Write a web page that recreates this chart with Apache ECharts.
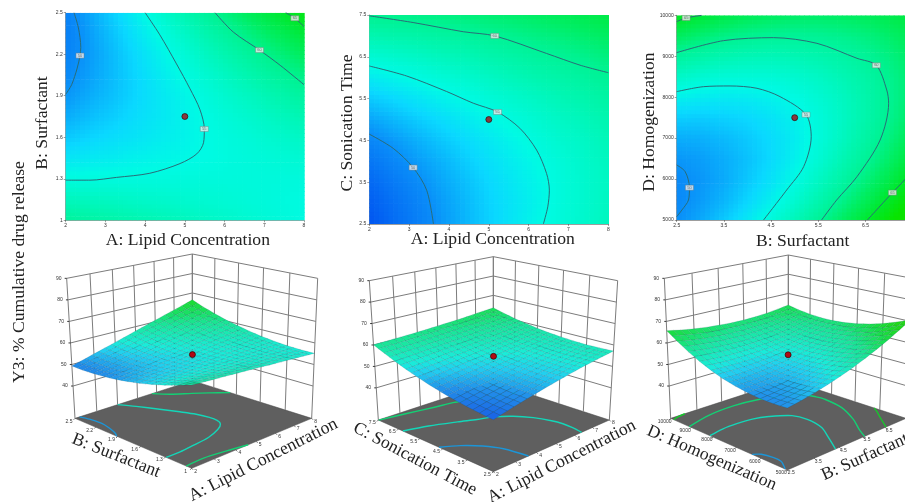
<!DOCTYPE html>
<html><head><meta charset="utf-8">
<style>html,body{margin:0;padding:0;background:#fff;overflow:hidden}#c{width:905px;height:502px;filter:blur(.4px)}</style>
<script src="https://cdn.jsdelivr.net/npm/echarts@6/dist/echarts.min.js"></script>
</head><body><div id="c"></div>
<script>
// ---------- values ----------
const lipidLevels=[2,2.6,3.2,3.8,4.4,5,5.6,6.2,6.8,7.4,8];
const surfactantLowLevels=[1,1.15,1.3,1.45,1.6,1.75,1.9,2.05,2.2,2.35,2.5];
const sonicationLevels=[2.5,3,3.5,4,4.5,5,5.5,6,6.5,7,7.5];
const surfactantHighLevels=[2.5,3,3.5,4,4.5,5,5.5,6,6.5,7,7.5];
const homogenizationLevels=[5000,5500,6000,6500,7000,7500,8000,8500,9000,9500,10000];

const releaseAB=[
[59.4,58.9,58.5,58.1,57.7,57.3,56.8,56.4,56.0,55.6,55.2],
[57.3,57.1,56.9,56.6,56.4,56.2,56.0,55.8,55.6,55.4,55.2],
[55.4,55.4,55.4,55.4,55.4,55.5,55.5,55.5,55.5,55.5,55.5],
[53.8,54.0,54.2,54.5,54.7,54.9,55.1,55.4,55.6,55.8,56.0],
[52.4,52.9,53.3,53.7,54.2,54.6,55.1,55.5,55.9,56.4,56.8],
[51.3,52.0,52.6,53.3,53.9,54.6,55.2,55.9,56.5,57.2,57.8],
[50.4,51.3,52.1,53.0,53.9,54.7,55.6,56.5,57.3,58.2,59.1],
[49.8,50.8,51.9,53.0,54.1,55.2,56.2,57.3,58.4,59.5,60.5],
[49.4,50.6,51.9,53.2,54.5,55.8,57.1,58.4,59.7,61.0,62.3],
[49.2,50.7,52.2,53.7,55.2,56.7,58.2,59.7,61.2,62.7,64.2],
[49.3,51.0,52.7,54.4,56.1,57.9,59.6,61.3,63.0,64.7,66.5]];
const releaseAC=[
[46.3,47.8,49.1,50.4,51.6,52.7,53.8,54.8,55.6,56.4,57.2],
[46.9,48.2,49.4,50.6,51.7,52.8,53.7,54.6,55.5,56.3,57.0],
[47.6,48.8,49.9,51.0,52.0,53.0,53.9,54.7,55.5,56.3,56.9],
[48.5,49.6,50.6,51.5,52.5,53.4,54.2,55.0,55.7,56.5,57.1],
[49.6,50.5,51.4,52.3,53.1,53.9,54.7,55.5,56.2,56.8,57.5],
[50.9,51.7,52.5,53.2,54.0,54.7,55.4,56.1,56.8,57.4,58.0],
[52.4,53.0,53.7,54.4,55.0,55.7,56.3,56.9,57.6,58.2,58.8],
[54.0,54.6,55.1,55.7,56.2,56.8,57.4,58.0,58.5,59.1,59.7],
[55.9,56.3,56.7,57.2,57.6,58.1,58.6,59.2,59.7,60.2,60.8],
[57.9,58.2,58.5,58.9,59.2,59.7,60.1,60.6,61.0,61.6,62.1],
[60.1,60.3,60.5,60.7,61.0,61.4,61.7,62.1,62.6,63.1,63.6]];
const releaseBD=[
[50.1,51.1,52.4,53.9,55.6,57.5,59.7,62.1,64.7,67.6,70.7],
[49.8,50.6,51.6,52.9,54.3,56.1,58.0,60.2,62.6,65.3,68.2],
[49.9,50.4,51.2,52.3,53.5,55.0,56.8,58.7,60.9,63.3,66.0],
[50.4,50.7,51.3,52.1,53.1,54.4,55.9,57.7,59.6,61.8,64.3],
[51.3,51.4,51.8,52.4,53.2,54.2,55.5,57.0,58.8,60.8,63.0],
[52.6,52.5,52.7,53.0,53.6,54.5,55.5,56.8,58.3,60.1,62.1],
[54.4,54.1,54.0,54.1,54.5,55.1,56.0,57.0,58.3,59.9,61.6],
[56.6,56.0,55.7,55.7,55.8,56.2,56.8,57.7,58.7,60.1,61.6],
[59.2,58.5,57.9,57.6,57.5,57.7,58.1,58.7,59.6,60.7,62.0],
[62.3,61.3,60.5,60.0,59.7,59.6,59.8,60.2,60.8,61.7,62.8],
[65.7,64.5,63.5,62.8,62.3,62.0,61.9,62.1,62.5,63.2,64.0]];

const contoursAB=[
 {level:50,line:[[2.21,2.5],[2.32,2.39],[2.38,2.25],[2.36,2.19],[2.29,2.10],[2.15,1.98],[2,1.91]],tag:[2.36,2.19]},
 {level:55,line:[[4.0,2.5],[4.37,2.34],[4.79,2.13],[5.13,1.95],[5.38,1.80],[5.49,1.66],[5.47,1.56],[5.3,1.48],[4.88,1.41],[4.12,1.34],[3.28,1.31],[2.61,1.29],[2,1.29]],tag:[5.49,1.66]},
 {level:60,line:[[5.76,2.5],[6.22,2.36],[6.88,2.23],[7.4,2.12],[8,1.98]],tag:[6.88,2.23]},
 {level:65,line:[[7.54,2.5],[7.77,2.46],[8,2.40]],tag:[7.77,2.46]}];
const floorOnlyAB=[{level:60,line:[[2,1.06],[2.8,1.07],[3.7,1.04],[4.6,1]]}];
const contoursAC=[
 {level:50,line:[[2,4.65],[2.6,4.31],[3.1,3.85],[3.44,3.31],[3.61,2.5]],tag:[3.1,3.85]},
 {level:55,line:[[2,6.28],[2.94,6.04],[3.94,5.67],[4.61,5.39],[5.22,5.18],[5.78,4.79],[6.2,4.27],[6.45,3.71],[6.52,3.31],[6.48,2.91],[6.37,2.5]],tag:[5.22,5.18]},
 {level:60,line:[[2,7.48],[3.1,7.32],[4.36,7.1],[5.15,7.0],[6.45,6.58],[7.29,6.3],[8,6.12]],tag:[5.15,7.0]}];
const contoursBD=[
 {level:50,line:[[2.5,6344],[2.68,6181],[2.77,5790],[2.75,5489],[2.61,5244],[2.5,5081]],tag:[2.77,5790]},
 {level:55,line:[[2.5,8135],[3.07,8257],[3.63,8274],[4.2,8217],[4.69,8013],[5.24,7573],[5.35,7036],[5.19,6303],[4.83,5733],[4.34,5000]],tag:[5.24,7573]},
 {level:60,line:[[2.5,9088],[3.49,9381],[4.55,9454],[5.47,9316],[6.32,8949],[6.73,8778],[6.95,8176],[6.99,7850],[6.81,6954],[6.32,6059],[5.89,5489],[5.57,5000]],tag:[6.73,8778]},
 {level:65,line:[[2.5,9845],[2.7,9935],[3.03,10000]],tag:[2.7,9935]},
 {level:65,line:[[6.54,5000],[7.07,5668],[7.34,5993],[7.5,6221]],tag:[7.07,5668]}];

const lipidTicks=[2,3,4,5,6,7,8];
const surfactantLowTicks=[1,1.3,1.6,1.9,2.2,2.5];
const sonicationTicks=[2.5,3.5,4.5,5.5,6.5,7.5];
const surfactantHighTicks=[2.5,3.5,4.5,5.5,6.5,7.5];
const homogenizationTicks=[5000,6000,7000,8000,9000,10000];
const responseTicks=[40,50,60,70,80,90];
const responseFloor=25, responseTop=90;
const centerPoints=[[5,1.75,54.6],[5,5,54.7],[5,7500,54.5]];

// ---------- colours and layout ----------
const colourStops=[[46,[0,80,240]],[50,[10,140,248]],[53,[10,216,255]],[55,[0,250,228]],[58,[0,246,176]],[60,[0,242,146]],[62,[0,238,100]],[65,[0,232,44]],[68,[8,228,0]],[72,[20,220,0]]];
function colourAt(z,fade){
  let s=colourStops,c=s[s.length-1][1];
  if(z<=s[0][0])c=s[0][1];
  else for(let i=1;i<s.length;i++){ if(z<=s[i][0]){const t=(z-s[i-1][0])/(s[i][0]-s[i-1][0]);c=s[i-1][1].map((v,k)=>v+(s[i][1][k]-v)*t);break;} }
  if(fade)c=c.map(v=>v+(fade[0]-v)*fade[1]);
  return `rgb(${c.map(Math.round).join(',')})`;
}
const serif='"Liberation Serif","Times New Roman",serif';
const panels=[
 {xs:lipidLevels,ys:surfactantLowLevels,zs:releaseAB,cs:contoursAB,xt:lipidTicks,yt:surfactantLowTicks,xr:[2,8],yr:[1,2.5],xi:1,yi:0.3,
  xn:'A: Lipid Concentration',yn:'B: Surfactant',rect:[65.7,12.7,238.3,207.6],extra:floorOnlyAB,gx:11,gy:14,px:6,py:13,
  o:[0,250],F:[575,655],L:[225,505],R:[935,505],K:[577,392],TF:[575,182],TL:[200,85],TR:[953,85],TK:[577,12],w:[.753,.877,1],
  xLabel:[263.3,460,26.8],yLabel:[116,455.7,-21.6]},
 {xs:lipidLevels,ys:sonicationLevels,zs:releaseAC,cs:contoursAC,xt:lipidTicks,yt:sonicationTicks,xr:[2,8],yr:[2.5,7.5],xi:1,yi:1,
  xn:'A: Lipid Concentration',yn:'C: Sonication Time',rect:[369.3,15,239,209],extra:[],gx:6,gy:13,px:8,py:7,
  o:[340,250],F:[460,665],L:[115,510],R:[808,510],K:[460,397],TF:[460,190],TL:[88,92],TR:[833,92],TK:[460,20],w:[.729,.865,1],
  xLabel:[561.7,461.7,27],yLabel:[415,459,-28]},
 {xs:surfactantHighLevels,ys:homogenizationLevels,zs:releaseBD,cs:contoursBD,xt:surfactantHighTicks,yt:homogenizationTicks,xr:[2.5,7.5],yr:[5000,10000],xi:1,yi:1000,
  xn:'B: Surfactant',yn:'D: Homogenization',rect:[676.7,15.3,236,204.7],extra:[],gx:12,gy:18,px:16,py:9,
  o:[630,250],F:[472,660],L:[122,505],R:[828,505],K:[475,390],TF:[472,179],TL:[103,85],TR:[847,85],TK:[475,15],w:[.742,.871,1],
  xLabel:[865,457,24],yLabel:[711.7,458,-23.5]}
];

function project(p,u,v,t){
  const pg=q=>[p.o[0]+q[0]/3,p.o[1]+q[1]/3];
  const [wF,wS,wK]=p.w;
  const nodes=[[p.F,wF,(1-u)*(1-v)*(1-t)],[p.R,wS,u*(1-v)*(1-t)],[p.L,wS,(1-u)*v*(1-t)],[p.K,wK,u*v*(1-t)],
               [p.TF,wF,(1-u)*(1-v)*t],[p.TR,wS,u*(1-v)*t],[p.TL,wS,(1-u)*v*t],[p.TK,wK,u*v*t]];
  let X=0,Y=0,W=0;
  nodes.forEach(([q,w,k])=>{const g=pg(q);X+=g[0]*w*k;Y+=g[1]*w*k;W+=w*k;});
  return [X/W,Y/W];
}
function bilinear(zs,i,j,fu,fv){
  const i1=Math.min(i+1,zs[0].length-1),j1=Math.min(j+1,zs.length-1);
  return zs[j][i]*(1-fu)*(1-fv)+zs[j][i1]*fu*(1-fv)+zs[j1][i]*(1-fu)*fv+zs[j1][i1]*fu*fv;
}

const grids=[],xAxes=[],yAxes=[],series=[];
panels.forEach((p,k)=>{
  grids.push({left:p.rect[0],top:p.rect[1],width:p.rect[2],height:p.rect[3],outerBoundsMode:'none',containLabel:false});
  const axisBase={type:'value',nameLocation:'middle',nameMoveOverlap:false,axisLine:{show:true,onZero:false,lineStyle:{color:'#5a5a5a',width:.6}},
    axisTick:{show:true,length:2,lineStyle:{color:'#444',width:.5}},splitLine:{show:false},
    axisLabel:{fontSize:5,color:'#333',margin:3,hideOverlap:false,showMinLabel:true,showMaxLabel:true,formatter:v=>String(v)}};
  const nameFont={fontFamily:serif,fontSize:17.6,color:'#222'};
  xAxes.push(Object.assign({},axisBase,{gridIndex:k,min:p.xr[0],max:p.xr[1],interval:p.xi,name:p.xn,nameGap:p.gx,
    nameTextStyle:Object.assign({padding:[0,0,0,p.px]},nameFont)}));
  yAxes.push(Object.assign({},axisBase,{gridIndex:k,min:p.yr[0],max:p.yr[1],interval:p.yi,name:p.yn,nameGap:p.gy,
    nameTextStyle:Object.assign({padding:[0,p.py,0,0]},nameFont)}));
  const cells=[];
  for(let j=0;j<p.ys.length-1;j++)for(let i=0;i<p.xs.length-1;i++)cells.push([p.xs[i],p.ys[j],p.zs[j][i],i,j]);
  series.push({type:'custom',xAxisIndex:k,yAxisIndex:k,z:1,silent:true,animation:false,clip:true,data:cells,encode:{x:0,y:1},
    renderItem(params,api){
      const i=api.value(3),j=api.value(4),N=5,ch=[];
      const dx=p.xs[i+1]-p.xs[i],dy=p.ys[j+1]-p.ys[j];
      for(let a=0;a<N;a++)for(let b=0;b<N;b++){
        const c0=api.coord([p.xs[i]+dx*a/N,p.ys[j]+dy*b/N]),c1=api.coord([p.xs[i]+dx*(a+1)/N,p.ys[j]+dy*(b+1)/N]);
        ch.push({type:'rect',shape:{x:Math.min(c0[0],c1[0]),y:Math.min(c0[1],c1[1]),width:Math.abs(c1[0]-c0[0])+.7,height:Math.abs(c1[1]-c0[1])+.7},
          style:{fill:colourAt(bilinear(p.zs,i,j,(a+.5)/N,(b+.5)/N))}});
      }
      return {type:'group',children:ch};
    }});
  p.cs.forEach(c=>{
    series.push({type:'line',xAxisIndex:k,yAxisIndex:k,z:3,silent:true,animation:false,showSymbol:false,smooth:.3,
      data:c.line,lineStyle:{color:'#2a6c78',width:1}});
  });
  series.push({type:'scatter',xAxisIndex:k,yAxisIndex:k,z:4,silent:true,animation:false,symbol:'rect',symbolSize:[8,5],
    data:p.cs.map(c=>({value:c.tag,level:c.level})),itemStyle:{color:'#eee',borderColor:'#777',borderWidth:.5},
    label:{show:true,position:'inside',fontSize:4,color:'#555',formatter:o=>String(o.data.level)}});
  series.push({type:'scatter',xAxisIndex:k,yAxisIndex:k,z:5,silent:true,animation:false,symbolSize:6,
    data:[centerPoints[k].slice(0,2)],itemStyle:{color:'#a80a14',borderColor:'#2a0000',borderWidth:.8}});
});

// whole-page plane for the projected 3D plots
grids.push({left:0,top:0,width:905,height:502,outerBoundsMode:'none'});
xAxes.push({type:'value',gridIndex:3,min:0,max:905,show:false});
yAxes.push({type:'value',gridIndex:3,min:0,max:502,inverse:true,show:false});

panels.forEach((p,k)=>{
  const Z=z=>(z-responseFloor)/(responseTop-responseFloor);
  const U=x=>(x-p.xr[0])/(p.xr[1]-p.xr[0]), V=y=>(y-p.yr[0])/(p.yr[1]-p.yr[0]);
  series.push({type:'custom',xAxisIndex:3,yAxisIndex:3,z:6,silent:true,animation:false,clip:false,data:[[k,k]],encode:{x:0,y:1},
    renderItem(params,api){
      const P=(u,v,t)=>api.coord(project(p,u,v,t));
      const ch=[];
      const seg=(a,b,stroke,width)=>ch.push({type:'line',shape:{x1:a[0],y1:a[1],x2:b[0],y2:b[1]},style:{stroke,lineWidth:width}});
      const text=(a,s,opt)=>ch.push({type:'text',x:a[0],y:a[1],rotation:(opt&&opt.rot)||0,style:Object.assign({text:s,fontSize:5,fill:'#333',align:'center',verticalAlign:'middle'},opt&&opt.style)});
      const wall='#7c7c7c';
      // floor
      ch.push({type:'polygon',shape:{points:[P(0,0,0),P(1,0,0),P(1,1,0),P(0,1,0)]},style:{fill:'#5f5f5f',stroke:'#444',lineWidth:.5}});
      // wall grid
      p.xt.forEach(x=>seg(P(U(x),1,0),P(U(x),1,1),wall,1));
      p.yt.forEach(y=>seg(P(1,V(y),0),P(1,V(y),1),wall,1));
      responseTicks.forEach(z=>{seg(P(0,1,Z(z)),P(1,1,Z(z)),wall,1);seg(P(1,1,Z(z)),P(1,0,Z(z)),wall,1);
        const a=P(0,1,Z(z));seg([a[0]-2,a[1]],a,'#222',.9);text([a[0]-8,a[1]],String(z));});
      // floor contours
      p.cs.concat(p.extra).forEach(c=>{
        const col=colourAt(c.level+1,[90,.22]);
        ch.push({type:'polyline',shape:{points:c.line.map(q=>P(U(q[0]),V(q[1]),0)),smooth:.3},style:{stroke:col,fill:null,lineWidth:1.4}});
      });
      // floor ticks and labels
      p.xt.forEach(x=>{const a=P(U(x),0,0);seg(a,[a[0]+1.5,a[1]+1.5],'#222',.6);text([a[0]+4,a[1]+3],String(x));});
      p.yt.forEach(y=>{const a=P(0,V(y),0);seg(a,[a[0]-1.5,a[1]+1.5],'#222',.6);text([a[0]-6,a[1]+3],String(y));});
      // surface, back to front, two facets per table step
      const n=p.xs.length-1,S=2;
      const at=(f,g)=>{const x=Math.min(Math.floor(f),n-1),y=Math.min(Math.floor(g),n-1);return bilinear(p.zs,x,y,f-x,g-y);};
      for(let j=n*S-1;j>=0;j--)for(let i=n*S-1;i>=0;i--){
        const c=[[i,j],[i+1,j],[i+1,j+1],[i,j+1]].map(q=>{const z=at(q[0]/S,q[1]/S);return P(q[0]/(n*S),q[1]/(n*S),Z(z));});
        const zm=at((i+.5)/S,(j+.5)/S);
        ch.push({type:'polygon',shape:{points:c},style:{fill:colourAt(zm,[160,.16]),stroke:'rgba(10,70,90,.3)',lineWidth:.45}});
      }
      // centre point
      const cp=centerPoints[k],d=P(U(cp[0]),V(cp[1]),Z(cp[2]));
      ch.push({type:'circle',shape:{cx:d[0],cy:d[1],r:3},style:{fill:'#b00a14',stroke:'#300',lineWidth:.7}});
      // axis names
      const nameStyle={fontFamily:serif,fontSize:17.6,fill:'#222'};
      const xl=api.coord([p.xLabel[0],p.xLabel[1]]),yl=api.coord([p.yLabel[0],p.yLabel[1]]);
      text(xl,p.xn,{rot:p.xLabel[2]*Math.PI/180,style:nameStyle});
      text(yl,p.yn,{rot:p.yLabel[2]*Math.PI/180,style:nameStyle});
      return {type:'group',children:ch};
    }});
});

const chart=echarts.init(document.getElementById('c'),null,{renderer:'canvas'});
chart.setOption({animation:false,backgroundColor:'#fff',grid:grids,xAxis:xAxes,yAxis:yAxes,series,tooltip:{show:false},
  graphic:[{type:'text',x:19,y:272,rotation:Math.PI/2,z:20,style:{text:'Y3: % Cumulative drug release',fontFamily:serif,fontSize:17.6,fill:'#222',align:'center',verticalAlign:'middle'}}]});
</script></body></html>
